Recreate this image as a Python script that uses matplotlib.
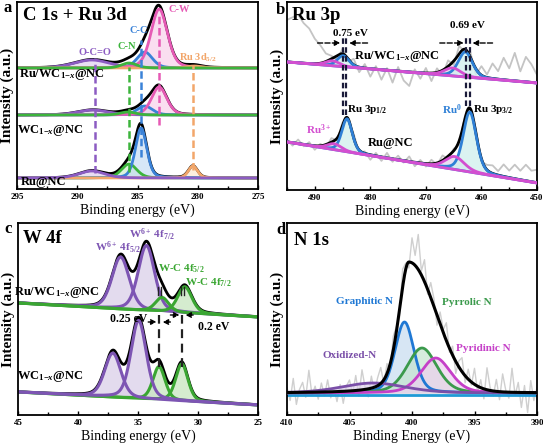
import numpy as np
import matplotlib
matplotlib.use('Agg')
import matplotlib.pyplot as plt
from matplotlib.ticker import MultipleLocator

plt.rcParams['font.family'] = ['Liberation Serif', 'DejaVu Serif']
plt.rcParams['font.weight'] = 'bold'
plt.rcParams['mathtext.fontset'] = 'custom'
plt.rcParams['mathtext.rm'] = 'Liberation Serif:bold'
plt.rcParams['mathtext.it'] = 'Liberation Serif:italic:bold'
plt.rcParams['mathtext.bf'] = 'Liberation Serif:bold'

# ---------------- Panel a : C 1s + Ru 3d ----------------
a_peak_names = ['O-C=O', 'C-N', 'C-C', 'C-W', 'Ru 3d']
a_top_center = [288.8, 285.7, 284.4, 283.2, 280.3]
a_top_height = [8, 5, 16, 59, 2]
a_top_fwhm = [3.5, 1.5, 1.5, 1.6, 1.5]
a_top_base = 121
a_mid_center = [288.7, 285.8, 284.4, 283.2, 280.4]
a_mid_height = [5, 3, 9, 28, 0]
a_mid_fwhm = [3.0, 1.5, 1.5, 1.5, 1.0]
a_mid_base = 74
a_bot_center = [288.8, 285.7, 284.7, 283.2, 280.4]
a_bot_height = [7, 14, 50, 0, 12]
a_bot_fwhm = [2.5, 1.5, 1.1, 1.4, 0.9]
a_bot_base = 11
a_guide_x = [288.5, 285.7, 284.7, 283.2, 280.4]
a_guide_ytop = [131, 122, 149, 176, 124]
a_guide_ybot = [16, 17, 32, 64, 19]

# ---------------- Panel b : Ru 3p ----------------
b_peak_names = ['Ru3+ 3p1/2', 'Ru0 3p1/2', 'Ru3+ 3p3/2', 'Ru0 3p3/2']
b_top_center = [486.8, 484.9, 465.2, 462.9]
b_top_height = [5, 11, 8, 25]
b_top_fwhm = [3.0, 2.5, 3.5, 3.0]
b_top_base = (128, 107)
b_bot_center = [486.5, 484.2, 464.8, 462.1]
b_bot_height = [6, 33, 13, 60]
b_bot_fwhm = [3.0, 2.2, 4.0, 2.8]
b_bot_base = (48, 7)
b_raw_x = list(range(495, 449, -1))
b_top_resid = [42, 45, 48, 40, 35, 25, 18, 8, 3, -4, 5, -3, 6, -5, 4, -8, 3, -10, 2, -12,
               4, -9, -14, 3, -6, 5, -8, 4, -5, 6, -4, 8, -3, 5, -6, 9, 3, 15, 8, 22,
               12, 28, 10, 25, 18, 8]
b_bot_resid = [2, -3, 4, -2, 3, -4, 2, -3, 4, -2, 3, -2, 4, -3, 2, -5, 3, -4, 5, -3,
               4, -2, 5, -4, 3, -3, 4, -2, 5, -3, 2, -4, 3, -2, 4, -3, 5, 8, 4, 12,
               7, 14, 9, 16, 11, 13]

# ---------------- Panel c : W 4f ----------------
c_peak_names = ['W6+ 4f5/2', 'W6+ 4f7/2', 'W-C 4f5/2', 'W-C 4f7/2']
c_top_center = [36.45, 34.3, 33.0, 31.1]
c_top_height = [52, 65, 14, 26]
c_top_fwhm = [1.7, 1.6, 1.3, 1.4]
c_top_base = (112, 98)
c_bot_center = [37.1, 34.95, 33.25, 31.35]
c_bot_height = [44, 78, 33, 37]
c_bot_fwhm = [1.6, 1.5, 1.2, 1.2]
c_bot_base = (23, 10)

# ---------------- Panel d : N 1s ----------------
d_peak_names = ['Oxidized-N', 'Graphitic N', 'Pyrrolic N', 'Pyridinic N']
d_center = [403.1, 400.6, 399.2, 398.1]
d_height = [10, 71, 45, 35]
d_fwhm = [6.0, 1.8, 2.8, 2.8]
d_base = 22
d_env_center = 400.25
d_env_height = 131
d_env_fwhm = (1.9, 5.2)      # high-BE side, low-BE side
d_env_eta = (0.4, 0.05)
d_raw_x = [410 - 0.25 * i for i in range(81)]
d_raw_resid = [5, -8, 14, -12, 3, 10, -5, 22, -3, 6, -7, 9, -4, 12, -6, 4, -10, 7, -12, 5,
               11, -3, 15, -6, 20, 2, -8, 12, -5, 8, 16, -4, 10, -9, 14, 5, -8, 18, 6, -6,
               25, 10, 35, 4, 22, -5, 15, 8, -10, 12, 3, 18, -4, 9, -12, 6, 14, -7, 10, -3,
               16, -6, 8, -10, 22, 3, -5, 12, -8, 18, 2, -6, 24, -3, 10, -15, 7, -20, 12, -8, 5]


def pv(x, c, h, w, eta=0.3):
    d = (x - c) / w
    return h * (eta / (1 + 4 * d * d) + (1 - eta) * np.exp(-4 * np.log(2) * d * d))


def lin_base(x, xl, xr, b):
    b0, b1 = b
    return b0 + (b1 - b0) * (x - xl) / (xr - xl)


W, H = 543, 447
fig = plt.figure(figsize=(W / 100, H / 100), dpi=100)


def add_ax(l, r, t, b):
    return fig.add_axes([l / W, 1 - b / H, (r - l) / W, (b - t) / H])


axa = add_ax(17, 258, 2, 189)
axb = add_ax(287, 537, 2, 190)
axc = add_ax(18, 258, 223, 415)
axd = add_ax(287, 537, 223, 415)

for ax, xl, xr, maj, mn, yh in [(axa, 295, 275, 5, 2.5, 187), (axb, 495, 450, 10, 5, 188),
                                (axc, 45, 25, 5, 2.5, 192), (axd, 410, 390, 5, 2.5, 192)]:
    ax.set_xlim(xl, xr)
    ax.set_ylim(0, yh)
    ax.xaxis.set_major_locator(MultipleLocator(maj))
    ax.xaxis.set_minor_locator(MultipleLocator(mn))
    ax.set_yticks([])
    ax.tick_params(axis='x', which='major', direction='in', length=3, width=1, labelsize=6.5, pad=3)
    ax.tick_params(axis='x', which='minor', direction='in', length=2, width=1)
    for s in ax.spines.values():
        s.set_linewidth(1.3)
    ax.set_ylabel('Intensity (a.u.)', fontsize=11, fontweight='bold')
    ax.yaxis.set_label_coords(-0.012, 0.5)

axa.set_xlabel('Binding energy (eV)', fontsize=10, labelpad=2)
axb.set_xlabel('Binding energy (eV)', fontsize=10, labelpad=2)
axc.set_xlabel('Binding energy (eV)', fontsize=10, labelpad=2)
axd.set_xlabel('Binding Energy (eV)', fontsize=10, labelpad=2)

# ---------- panel a drawing ----------
xa = np.linspace(295, 275, 800)
a_line = ['#8c5cc2', '#3cb43c', '#3a82d8', '#e65ab5', '#f2a66a']
a_fill = ['#d9c9ec', '#c8ebc5', '#bdd7f2', '#f7c8e6', '#fbe3c9']
for cen, hei, fw, base, order in [
        (a_bot_center, a_bot_height, a_bot_fwhm, a_bot_base, [1, 2, 3, 4, 0]),
        (a_mid_center, a_mid_height, a_mid_fwhm, a_mid_base, [0, 2, 3, 4, 1]),
        (a_top_center, a_top_height, a_top_fwhm, a_top_base, [0, 2, 3, 4, 1])]:
    comps = [pv(xa, c, h, w) for c, h, w in zip(cen, hei, fw)]
    env = base + np.sum(comps, axis=0)
    for i in range(5):
        if hei[i] > 0:
            axa.fill_between(xa, base, base + comps[i], color=a_fill[i], alpha=0.6, lw=0)
    axa.plot(xa, env, color='black', lw=2.0)
    for i in order:
        if hei[i] > 0:
            axa.plot(xa, base + comps[i], color=a_line[i], lw=2.0)
for gx, yt, yb, col in zip(a_guide_x, a_guide_ytop, a_guide_ybot, a_line):
    axa.plot([gx, gx], [yb, yt], color=col, lw=1.8, ls=(0, (3, 1.5)))

axa.text(0.025, 0.93, 'C 1s + Ru 3d', transform=axa.transAxes, fontsize=13.5, va='center')
axa.text(281.5, 179.7, 'C-W', color=a_line[3], fontsize=7.5, ha='center', va='center')
axa.text(284.93, 158.3, 'C-C', color=a_line[2], fontsize=7.5, ha='center', va='center')
axa.text(285.9, 142.3, 'C-N', color=a_line[1], fontsize=7.5, ha='center', va='center')
axa.text(288.53, 136.3, 'O-C=O', color=a_line[0], fontsize=7.5, ha='center', va='center')
axa.text(279.95, 131.7, 'Ru 3d$_{5/2}$', color=a_line[4], fontsize=7.5, ha='center', va='center')
axa.text(291.3, 114, r'Ru/WC$_{1\mathrm{-}x}$@NC', fontsize=9, ha='center', va='center')
axa.text(292.26, 59, r'WC$_{1\mathrm{-}x}$@NC', fontsize=9, ha='center', va='center')
axa.text(292.8, 6.5, 'Ru@NC', fontsize=9, ha='center', va='center')

# ---------- panel b drawing ----------
xb = np.linspace(495, 450, 800)
b_line = ['#d34fd0', '#2f80d6', '#d34fd0', '#2f80d6']
b_fill = ['#e6d8ee', '#d2f0ee', '#e6d8ee', '#d2f0ee']
bx_raw = np.array(b_raw_x, dtype=float)
for cen, hei, fw, base, resid in [(b_top_center, b_top_height, b_top_fwhm, b_top_base, b_top_resid),
                                  (b_bot_center, b_bot_height, b_bot_fwhm, b_bot_base, b_bot_resid)]:
    bl = lin_base(xb, 495, 450, base)
    comps = [pv(xb, c, h, w) for c, h, w in zip(cen, hei, fw)]
    env = bl + np.sum(comps, axis=0)
    bl_r = lin_base(bx_raw, 495, 450, base)
    env_r = bl_r + np.sum([pv(bx_raw, c, h, w) for c, h, w in zip(cen, hei, fw)], axis=0)
    axb.plot(bx_raw, env_r + np.array(resid), color='#c4c4c4', lw=1.3, zorder=1)
    for i in range(4):
        axb.fill_between(xb, bl, bl + comps[i], color=b_fill[i], alpha=0.8, lw=0, zorder=2)
    axb.plot(xb, env, color='black', lw=2.0, zorder=3)
    for i in [1, 3, 0, 2]:
        axb.plot(xb, bl + comps[i], color=b_line[i], lw=2.0, zorder=4)

nav = '#1b1b3a'
for (x1, x2), ytop, ybot in [((484.95, 484.3), 152, 75), ((462.75, 462.05), 152, 84)]:
    for xx in (x1, x2):
        axb.plot([xx, xx], [ybot, ytop], color=nav, lw=1.6, ls=(0, (2.5, 1.5)), zorder=5)
for xs, xe, y in [(489.5, 485.4, 147), (480.5, 483.8, 147), (467.5, 463.2, 147), (458.0, 461.6, 147)]:
    axb.annotate('', xy=(xe, y), xytext=(xs, y),
                 arrowprops=dict(arrowstyle='-|>', color='black', lw=1.0, ls='--',
                                 mutation_scale=8, shrinkA=0, shrinkB=0), zorder=6)
axb.text(0.02, 0.93, 'Ru 3p', transform=axb.transAxes, fontsize=13.5, va='center')
axb.text(483.5, 156.7, '0.75 eV', fontsize=8, ha='center', va='center')
axb.text(462.6, 164, '0.69 eV', fontsize=8, ha='center', va='center')
axb.text(475.2, 133.3, r'Ru/WC$_{1\mathrm{-}x}$@NC', fontsize=9, ha='center', va='center')
axb.text(480.6, 80.7, 'Ru 3p$_{1/2}$', fontsize=8, ha='center', va='center')
axb.text(489.3, 60, 'Ru$^{3+}$', color=b_line[0], fontsize=8, ha='center', va='center')
axb.text(476.4, 46.7, 'Ru@NC', fontsize=9, ha='center', va='center')
axb.text(465.3, 80, 'Ru$^{0}$', color=b_line[1], fontsize=8, ha='center', va='center')
axb.text(457.8, 80, 'Ru 3p$_{3/2}$', fontsize=8, ha='center', va='center')

# ---------- panel c drawing ----------
xc = np.linspace(45, 25, 800)
c_line = ['#7d55b3', '#7d55b3', '#3aa632', '#3aa632']
c_fill = ['#ddd2ea', '#ddd2ea', '#cbe8c4', '#cbe8c4']
for cen, hei, fw, base, order in [(c_top_center, c_top_height, c_top_fwhm, c_top_base, [0, 1, 2, 3]),
                                  (c_bot_center, c_bot_height, c_bot_fwhm, c_bot_base, [2, 3, 0, 1])]:
    bl = lin_base(xc, 45, 25, base)
    comps = [pv(xc, c, h, w) for c, h, w in zip(cen, hei, fw)]
    env = bl + np.sum(comps, axis=0)
    for i in range(4):
        axc.fill_between(xc, bl, bl + comps[i], color=c_fill[i], alpha=0.8, lw=0)
    axc.plot(xc, env, color='black', lw=2.0)
    for i in order:
        axc.plot(xc, bl + comps[i], color=c_line[i], lw=2.2)

for xx in (33.25, 31.35):
    axc.plot([xx, xx], [48, 100], color='#222222', lw=1.6, ls=(0, (4, 2.5)))
for xx in (33.35, 33.05, 31.45, 31.15):
    axc.plot([xx, xx], [120, 128], color='#222222', lw=1.0)
for xs, xe, y in [(34.15, 33.45, 93), (32.3, 32.95, 93), (32.3, 31.55, 100), (30.4, 31.05, 100)]:
    axc.annotate('', xy=(xe, y), xytext=(xs, y),
                 arrowprops=dict(arrowstyle='-|>', color='black', lw=1.0, ls='--',
                                 mutation_scale=8, shrinkA=0, shrinkB=0))
axc.text(0.02, 0.92, 'W 4f', transform=axc.transAxes, fontsize=13.5, va='center')
axc.text(36.64, 166.7, 'W$^{6+}$ 4f$_{5/2}$', color=c_line[0], fontsize=8, ha='center', va='center')
axc.text(33.86, 180, 'W$^{6+}$ 4f$_{7/2}$', color=c_line[0], fontsize=8, ha='center', va='center')
axc.text(31.36, 146.7, 'W-C 4f$_{5/2}$', color=c_line[2], fontsize=8, ha='center', va='center')
axc.text(29.14, 132.3, 'W-C 4f$_{7/2}$', color=c_line[2], fontsize=8, ha='center', va='center')
axc.text(41.78, 122, r'Ru/WC$_{1\mathrm{-}x}$@NC', fontsize=9, ha='center', va='center')
axc.text(42.33, 38.3, r'WC$_{1\mathrm{-}x}$@NC', fontsize=9, ha='center', va='center')
axc.text(35.75, 96, '0.25 eV', fontsize=8.5, ha='center', va='center')
axc.text(28.7, 88.3, '0.2 eV', fontsize=8.5, ha='center', va='center')

# ---------- panel d drawing ----------
xd = np.linspace(410, 390, 800)
d_line = ['#7a4fa8', '#1f78d4', '#3b9a4c', '#c540c8']
d_fill = ['#ddd0ea', '#c7dcf0', '#c5e4cf', '#ecd0ee']


def d_envelope(x):
    hi = x >= d_env_center
    out = np.where(hi, pv(x, d_env_center, d_env_height, d_env_fwhm[0], d_env_eta[0]),
                   pv(x, d_env_center, d_env_height, d_env_fwhm[1], d_env_eta[1]))
    return d_base + out


dxr = np.array(d_raw_x)
axd.plot(dxr, d_envelope(dxr) + np.array(d_raw_resid), color='#cfcfcf', lw=1.0, zorder=1)
comps = [pv(xd, c, h, w) for c, h, w in zip(d_center, d_height, d_fwhm)]
axd.axhline(d_base - 2, color='#1f9ad6', lw=2.0, zorder=2)
for i in range(4):
    axd.fill_between(xd, d_base, d_base + comps[i], color=d_fill[i], alpha=0.7, lw=0, zorder=2)
for i in [1, 2, 3, 0]:
    axd.plot(xd, d_base + comps[i], color=d_line[i], lw=2.0, zorder=3)
axd.plot(xd, d_envelope(xd), color='black', lw=2.2, zorder=4)
axd.text(0.027, 0.91, 'N 1s', transform=axd.transAxes, fontsize=13.5, va='center')
axd.text(403.8, 114, 'Graphitic N', color=d_line[1], fontsize=8, ha='center', va='center')
axd.text(395.6, 112.3, 'Pyrrolic N', color=d_line[2], fontsize=8, ha='center', va='center')
axd.text(394.3, 66.7, 'Pyridinic N', color=d_line[3], fontsize=8, ha='center', va='center')
axd.text(405.0, 60, 'Oxidized-N', color=d_line[0], fontsize=8, ha='center', va='center')

# panel letters
for lab, px, py in [('a', 4, 8), ('b', 276, 10), ('c', 4, 229), ('d', 276, 230)]:
    fig.text(px / W, 1 - py / H, lab, fontsize=12, fontweight='bold', ha='left', va='center')

fig.savefig('out.png', dpi=100)
